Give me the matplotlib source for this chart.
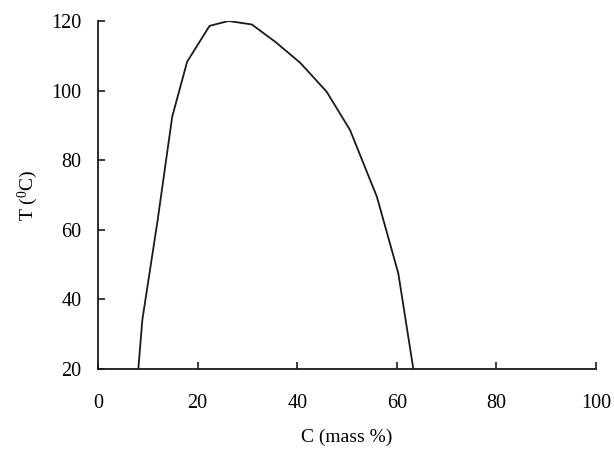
import matplotlib
matplotlib.use("Agg")
import matplotlib.pyplot as plt

# mass fraction (%) and temperature (deg C)
conc = [8.1, 8.9, 12.0, 14.9, 17.9, 22.4, 26.2, 30.9, 35.7, 40.6, 45.9, 50.6, 56.0, 60.3, 63.3]
temp = [20.0, 34.1, 63.0, 92.5, 108.3, 118.6, 120.0, 119.0, 113.9, 108.0, 99.7, 88.7, 69.5, 47.5, 20.2]

x_ticks = [0, 20, 40, 60, 80, 100]
y_ticks = [20, 40, 60, 80, 100, 120]

plt.rcParams["font.family"] = ["Liberation Serif", "DejaVu Serif"]
plt.rcParams["mathtext.fontset"] = "custom"
plt.rcParams["mathtext.rm"] = "Liberation Serif"
plt.rcParams["mathtext.it"] = "Liberation Serif:italic"

fig = plt.figure(figsize=(6.14, 4.49), dpi=100)
ax = fig.add_axes([98 / 614, 1 - 369 / 449, 498 / 614, 348 / 449])

ax.plot(conc, temp, color="#1a1a1a", lw=1.3)

ax.set_xlim(0, 100)
ax.set_ylim(20, 120)
ax.set_xticks(x_ticks)
ax.set_yticks(y_ticks)
for side in ("top", "right"):
    ax.spines[side].set_visible(False)
for side in ("left", "bottom"):
    ax.spines[side].set_linewidth(1.3)
    ax.spines[side].set_color("#1a1a1a")
ax.tick_params(direction="in", length=5, width=1.2, labelsize=14.5, color="#1a1a1a")
ax.tick_params(axis="y", pad=12)
ax.tick_params(axis="x", pad=18)

ax.set_xlabel("C (mass %)", fontsize=14, labelpad=11)
ax.set_ylabel(r"T ($^{\mathrm{0}}$C)", fontsize=14, labelpad=8)

fig.savefig("out.png", dpi=100)
